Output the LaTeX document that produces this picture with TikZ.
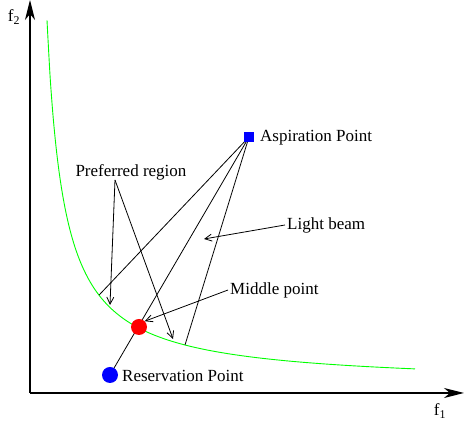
\documentclass[tikz,border=0pt]{standalone}
\usepackage{fontspec}
\setmainfont{Liberation Serif}
\usetikzlibrary{positioning,calc,arrows.meta}
\tikzset{
  figfont/.style={font=\fontsize{17}{20}\selectfont},
  figaxis/.style={line width=1.3pt, -{Stealth[length=20pt, width=10pt, inset=6pt]}},
  figline/.style={line width=0.8pt},
  figarrow/.style={figline, -{Straight Barb[length=7pt, width=7pt]}},
  figlabel/.style={inner sep=2pt, anchor=west},
}
\begin{document}
\begin{tikzpicture}[x=1pt, y=1pt, figfont]
		\useasboundingbox (0,0) rectangle (467,428);

		% Axes
		\coordinate (origin) at (30,35);
		\coordinate (xend) at (464,35);
		\coordinate (yend) at (30,428);
		\draw[figaxis] (origin) -- (xend);
		\draw[figaxis] (origin) -- (yend);
		\node (flabx) at (440,17) {f\textsubscript{1}};
		\node (flaby) at (14,411) {f\textsubscript{2}};

		% Pareto front
		\draw[green, line width=0.9pt, domain=47:415, samples=120, smooth]
			plot (\x, {43+6200/(\x-30)});
		\coordinate (cl) at (99,{43+6200/69});
		\coordinate (cr) at (185,{43+6200/155});

		% Points
		\coordinate (aspc) at (249,291);
		\coordinate (resc) at (110,53);
		\draw[figline] (aspc) -- (cl);
		\draw[figline] (aspc) -- (cr);
		\draw[figline] (resc) -- (aspc);
		\node[fill=blue, minimum size=10pt, inner sep=0pt] (asp) at (aspc) {};
		\node[circle, fill=blue, minimum size=16pt, inner sep=0pt] (res) at (resc) {};
		\node[circle, fill=red, minimum size=16pt, inner sep=0pt] (mid) at (139,101) {};
		\node[figlabel] (asplabel) at (258,290) {Aspiration Point};
		\node[figlabel] (reslabel) at (120,52) {Reservation Point};

		% Annotations
		\node (preflabel) at (131,256) {Preferred region};
		\coordinate (prefpt) at (115,248);
		\coordinate (prefl) at (110,123);
		\coordinate (prefr) at (173,89);
		\draw[figarrow] (prefpt) -- (prefl);
		\draw[figarrow] (prefpt) -- (prefr);

		\node[figlabel] (beamlabel) at (285,203) {Light beam};
		\coordinate (beampt) at (204,189);
		\draw[figarrow] (beamlabel.west) -- (beampt);

		\node[figlabel] (midlabel) at (228,138) {Middle point};
		\draw[figarrow] (midlabel.west) -- (mid.north east);
	\end{tikzpicture}
\end{document}
